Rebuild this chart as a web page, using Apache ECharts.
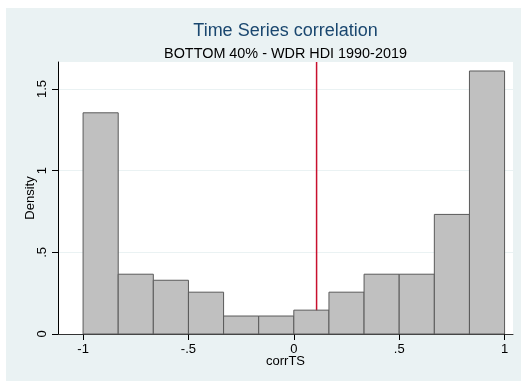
<!DOCTYPE html>
<html>
<head>
<meta charset="utf-8">
<script src="https://cdn.jsdelivr.net/npm/echarts@6/dist/echarts.min.js"></script>
<style>
html,body{margin:0;padding:0;background:#fff;}
#chart{width:521px;height:381px;}
</style>
</head>
<body>
<div id="chart"></div>
<script>
// Histogram bins (corrTS) and densities
var binLo = [-1, -0.8333, -0.6667, -0.5, -0.3333, -0.1667, 0, 0.1667, 0.3333, 0.5, 0.6667, 0.8333];
var binHi = [-0.8333, -0.6667, -0.5, -0.3333, -0.1667, 0, 0.1667, 0.3333, 0.5, 0.6667, 0.8333, 1];
var density = [1.354, 0.366, 0.329, 0.256, 0.110, 0.110, 0.146, 0.256, 0.366, 0.366, 0.732, 1.610];
var refLineX = 0.108;
var xTicks = [-1, -0.5, 0, 0.5, 1];
var xTickLabels = ['-1', '-.5', '0', '.5', '1'];
var yTicks = [0, 0.5, 1, 1.5];
var yTickLabels = ['0', '.5', '1', '1.5'];
var titleText = 'Time Series correlation';
var subtitleText = 'BOTTOM 40% - WDR HDI 1990-2019';

var FONT = '"Liberation Sans", Arial, Helvetica, sans-serif';
var chart = echarts.init(document.getElementById('chart'), null, {renderer: 'canvas'});

var barData = binLo.map(function (lo, i) { return [lo, binHi[i], density[i]]; });

function fmt(values, labels) {
  return function (v) {
    for (var i = 0; i < values.length; i++) {
      if (Math.abs(values[i] - v) < 1e-6) return labels[i];
    }
    return '';
  };
}

var option = {
  backgroundColor: '#ffffff',
  animation: false,
  graphic: [
    {type: 'rect', z: -10, silent: true, shape: {x: 6, y: 8, width: 515, height: 373}, style: {fill: '#EAF2F3'}},
    {type: 'text', z: 10, x: 285.5, y: 31, style: {text: titleText, fill: '#1A476F', font: '18px ' + FONT, textAlign: 'center', textVerticalAlign: 'middle'}},
    {type: 'text', z: 10, x: 285.5, y: 54, style: {text: subtitleText, fill: '#000000', font: '14.4px ' + FONT, textAlign: 'center', textVerticalAlign: 'middle'}}
  ],
  grid: {left: 58, right: 8, top: 62, bottom: 47, show: true, backgroundColor: '#ffffff', borderWidth: 0, containLabel: false},
  xAxis: {
    type: 'value', min: -1.119, max: 1.04,
    name: 'corrTS', nameLocation: 'middle', nameGap: 21, nameMoveOverlap: false,
    nameTextStyle: {fontFamily: FONT, fontSize: 13, color: '#000'},
    axisLine: {show: true, onZero: false, lineStyle: {color: '#333', width: 1}},
    axisTick: {show: true, customValues: xTicks, length: 6, lineStyle: {color: '#000'}},
    axisLabel: {customValues: xTicks, formatter: fmt(xTicks, xTickLabels), margin: 9, fontFamily: FONT, fontSize: 13, color: '#000'},
    splitLine: {show: false}
  },
  yAxis: {
    type: 'value', min: 0, max: 1.665,
    name: 'Density', nameLocation: 'middle', nameGap: 21, nameMoveOverlap: false,
    nameTextStyle: {fontFamily: FONT, fontSize: 13, color: '#000'},
    axisLine: {show: true, onZero: false, lineStyle: {color: '#000', width: 1}},
    axisTick: {show: true, customValues: yTicks, length: 6, lineStyle: {color: '#000'}},
    axisLabel: {customValues: yTicks, formatter: fmt(yTicks, yTickLabels), rotate: 90, margin: 9, fontFamily: FONT, fontSize: 13, color: '#000'},
    interval: 0.5,
    splitLine: {show: true, lineStyle: {color: '#EAF2F3', width: 1}}
  },
  series: [
    {
      type: 'line', z: 1, silent: true, symbol: 'none',
      data: [[refLineX, 0], [refLineX, 1.665]],
      lineStyle: {color: '#C8102E', width: 1.5}
    },
    {
      type: 'custom', z: 5,
      data: barData,
      encode: {x: [0, 1], y: 2},
      renderItem: function (params, api) {
        var p0 = api.coord([api.value(0), api.value(2)]);
        var p1 = api.coord([api.value(1), 0]);
        return {
          type: 'rect',
          shape: {x: p0[0], y: p0[1], width: p1[0] - p0[0], height: p1[1] - p0[1]},
          style: {fill: '#C0C0C0', stroke: '#5A5A5A', lineWidth: 1}
        };
      }
    }
  ]
};
chart.setOption(option);
</script>
</body>
</html>
